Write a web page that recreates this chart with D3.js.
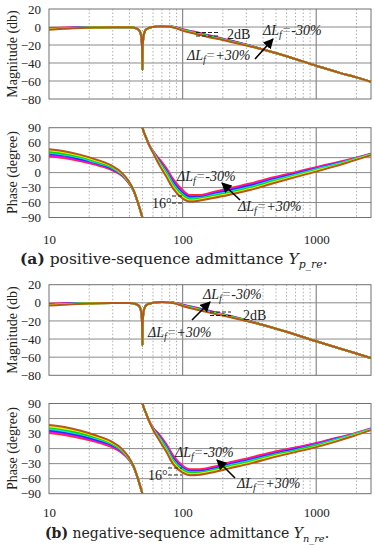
<!DOCTYPE html>
<html>
<head>
<meta charset="utf-8">
<script src="https://cdn.jsdelivr.net/npm/d3@7"></script>
<style>
  body { margin: 0; background: #fff; }
  svg { display: block; }
  svg text { font-family: "Liberation Serif", "Times New Roman", serif; fill: #222; }
  svg text.caption { font-family: "DejaVu Serif", serif; }
</style>
</head>
<body>
<div id="chart"></div>
<script>
// frequency grids (Hz)
const magFreqs = [10, 15, 20, 30, 40, 45, 47.5, 49, 49.7, 50, 50.3, 51, 52.5, 55, 60, 70, 80, 90, 100, 120, 150, 200, 300, 400, 600, 1000, 1500, 2000, 2570];
const phaseFreqs = [10, 13, 17, 22, 29, 35, 39, 43, 46.5, 48.5, 49.9, 50, 50.1, 51, 53.5, 56, 60, 67, 75, 85, 100, 113, 135, 170, 220, 320, 470, 700, 1000, 1400, 1800, 2570];

const seriesNames = ["-30%", "-20%", "-10%", "0%", "+10%", "+20%", "+30%"];
const majorTicks = [10, 100, 1000];
const minorTicks = [20, 30, 40, 50, 60, 70, 80, 90, 200, 300, 400, 500, 600, 700, 800, 900, 2000];
const magTicks = [20, 0, -20, -40, -60, -80];
const phaseTicks = [90, 60, 30, 0, -30, -60, -90];

// (a) positive-sequence, magnitude (dB)
const magA_m30 = [-1, -0.5, -0.3, -0.2, -0.3, -1.5, -4, -10, -22, -48, -22, -10, -4, -1.5, 0, 0.8, 0.8, -0.5, -2.5, -5, -8.5, -13, -19.5, -25, -32.5, -43, -51, -56, -61];
const magA_m20 = [-1.3, -0.7, -0.4, -0.2, -0.3, -1.5, -4, -10, -22, -48, -22, -10, -4, -1.5, 0, 0.8, 0.7, -0.7, -2.8, -5.3, -8.8, -13.3, -19.7, -25, -32.5, -43, -51, -56, -61];
const magA_m10 = [-1.6, -0.8, -0.5, -0.2, -0.3, -1.5, -4, -10, -22, -48, -22, -10, -4, -1.5, 0, 0.8, 0.6, -0.8, -3, -5.7, -9.2, -13.5, -19.8, -25, -32.5, -43, -51, -56, -61];
const magA_z0 = [-2, -1, -0.5, -0.2, -0.3, -1.5, -4, -10, -22, -48, -22, -10, -4, -1.5, 0, 0.8, 0.6, -1, -3.2, -6, -9.5, -13.8, -20, -25, -32.5, -43, -51, -56, -61];
const magA_p10 = [-2.3, -1.1, -0.6, -0.2, -0.3, -1.5, -4, -10, -22, -48, -22, -10, -4, -1.5, 0, 0.8, 0.5, -1.2, -3.5, -6.3, -9.8, -14, -20.2, -25, -32.5, -43, -51, -56, -61];
const magA_p20 = [-2.6, -1.3, -0.7, -0.2, -0.3, -1.5, -4, -10, -22, -48, -22, -10, -4, -1.5, 0, 0.8, 0.5, -1.3, -3.7, -6.7, -10.2, -14.3, -20.3, -25, -32.5, -43, -51, -56, -61];
const magA_p30 = [-3, -1.5, -0.8, -0.2, -0.3, -1.5, -4, -10, -22, -48, -22, -10, -4, -1.5, 0, 0.8, 0.4, -1.5, -4, -7, -10.5, -14.5, -20.5, -25, -32.5, -43, -51, -56, -61];

// (a) positive-sequence, phase (deg), null = jump at 50 Hz
const phA_m30 = [33, 29, 23, 16, 6, -6, -19, -37, -62, -78, -89, null, 90, 83, 69, 56, 43, 27, 10, -13, -35, -45, -45, -39, -32, -22, -10, 1, 11, 20, 27, 38];
const phA_m20 = [35, 31, 25, 18, 8, -5, -18, -37, -62, -78, -89, null, 90, 83, 69, 56, 43, 25, 7, -16, -38, -47, -47, -41, -34, -24, -12, -1, 10, 19, 26, 38];
const phA_m10 = [38, 34, 27, 20, 9, -4, -18, -36, -62, -78, -89, null, 90, 83, 69, 56, 42, 23, 4, -19, -41, -49, -49, -43, -36, -26, -14, -2, 8, 18, 25, 37];
const phA_z0 = [40, 36, 30, 21, 11, -3, -17, -36, -62, -78, -89, null, 90, 83, 69, 56, 42, 21, 2, -23, -44, -52, -51, -45, -39, -29, -16, -4, 7, 17, 25, 37];
const phA_p10 = [42, 38, 32, 23, 12, -2, -16, -36, -62, -78, -89, null, 90, 83, 69, 56, 41, 19, -1, -26, -46, -54, -52, -47, -41, -31, -18, -6, 5, 15, 24, 36];
const phA_p20 = [45, 41, 34, 25, 14, -1, -16, -35, -62, -78, -89, null, 90, 83, 69, 56, 41, 17, -4, -29, -49, -56, -54, -49, -43, -33, -20, -7, 4, 14, 23, 36];
const phA_p30 = [47, 43, 36, 27, 15, 0, -15, -35, -62, -78, -89, null, 90, 83, 69, 56, 40, 15, -7, -32, -52, -58, -56, -51, -45, -35, -22, -9, 2, 13, 22, 35];

// (b) negative-sequence, magnitude (dB)
const magB_m30 = [-1, -0.5, -0.3, -0.2, -0.3, -1.5, -4, -10, -22, -47, -22, -10, -4, -1.5, 0, 0.8, 0.8, -0.3, -2, -4.5, -8, -12.5, -19, -24.5, -32, -42.5, -50.5, -56, -61];
const magB_m20 = [-1.3, -0.7, -0.4, -0.2, -0.3, -1.5, -4, -10, -22, -47, -22, -10, -4, -1.5, 0, 0.8, 0.7, -0.5, -2.3, -4.8, -8.3, -12.8, -19.2, -24.5, -32, -42.5, -50.5, -56, -61];
const magB_m10 = [-1.6, -0.8, -0.5, -0.2, -0.3, -1.5, -4, -10, -22, -47, -22, -10, -4, -1.5, 0, 0.8, 0.6, -0.6, -2.5, -5.2, -8.7, -13, -19.3, -24.5, -32, -42.5, -50.5, -56, -61];
const magB_z0 = [-2, -1, -0.5, -0.2, -0.3, -1.5, -4, -10, -22, -47, -22, -10, -4, -1.5, 0, 0.8, 0.6, -0.8, -2.8, -5.5, -9, -13.2, -19.5, -24.5, -32, -42.5, -50.5, -56, -61];
const magB_p10 = [-2.3, -1.1, -0.6, -0.2, -0.3, -1.5, -4, -10, -22, -47, -22, -10, -4, -1.5, 0, 0.8, 0.5, -0.9, -3, -5.8, -9.3, -13.5, -19.7, -24.5, -32, -42.5, -50.5, -56, -61];
const magB_p20 = [-2.6, -1.3, -0.7, -0.2, -0.3, -1.5, -4, -10, -22, -47, -22, -10, -4, -1.5, 0, 0.8, 0.5, -1.1, -3.3, -6.2, -9.7, -13.8, -19.8, -24.5, -32, -42.5, -50.5, -56, -61];
const magB_p30 = [-3, -1.5, -0.8, -0.2, -0.3, -1.5, -4, -10, -22, -47, -22, -10, -4, -1.5, 0, 0.8, 0.4, -1.2, -3.5, -6.5, -10, -14, -20, -24.5, -32, -42.5, -50.5, -56, -61];

// (b) negative-sequence, phase (deg)
const phB_m30 = [31, 27, 21, 14, 4, -8, -20, -37, -62, -78, -89, null, 90, 83, 69, 56, 42, 28, 10, -14, -34, -41, -41, -36, -28, -18, -7, 2, 11, 21, 28, 40];
const phB_m20 = [34, 30, 24, 16, 6, -7, -19, -37, -62, -78, -89, null, 90, 83, 69, 56, 41, 26, 8, -17, -36, -43, -43, -38, -30, -20, -9, 1, 10, 20, 27, 40];
const phB_m10 = [36, 32, 26, 18, 8, -5, -18, -36, -62, -78, -89, null, 90, 83, 69, 56, 41, 24, 5, -20, -39, -45, -45, -40, -32, -22, -11, -1, 8, 19, 26, 39];
const phB_z0 = [39, 35, 29, 21, 10, -4, -18, -36, -62, -78, -89, null, 90, 83, 69, 56, 40, 22, 3, -23, -41, -47, -47, -42, -34, -24, -13, -3, 7, 18, 26, 39];
const phB_p10 = [42, 38, 31, 23, 11, -3, -17, -36, -62, -78, -89, null, 90, 83, 69, 56, 39, 20, 0, -25, -43, -49, -48, -43, -36, -26, -14, -4, 6, 16, 25, 38];
const phB_p20 = [44, 40, 34, 25, 13, -1, -16, -35, -62, -78, -89, null, 90, 83, 69, 56, 39, 18, -3, -28, -46, -51, -50, -45, -38, -28, -16, -6, 4, 15, 24, 38];
const phB_p30 = [47, 43, 36, 27, 15, 0, -15, -35, -62, -78, -89, null, 90, 83, 69, 56, 38, 16, -5, -31, -48, -53, -52, -47, -40, -30, -18, -7, 3, 14, 23, 37];

const colors = ["#ff2a2a", "#ff00ff", "#2a2aff", "#00e6e6", "#00dd00", "#eeee00", "#b4561e"];

const svg = d3.select("#chart").append("svg").attr("width", 375).attr("height", 550);

svg.append("defs").append("marker")
  .attr("id", "arrow").attr("viewBox", "0 0 10 10")
  .attr("refX", 9).attr("refY", 5)
  .attr("markerWidth", 6.5).attr("markerHeight", 6.5)
  .attr("orient", "auto")
  .append("path").attr("d", "M0,0L10,5L0,10z").attr("fill", "#000");

const x = d3.scaleLog().domain([10, 2570]).range([49, 371]);

function panel(id, top, bottom, domain, ticks, label, freqs, series) {
  const y = d3.scaleLinear().domain(domain).range([bottom, top]);
  const g = svg.append("g");
  const [x0, x1] = x.range();

  g.append("clipPath").attr("id", id)
    .append("rect").attr("x", x0).attr("y", top).attr("width", x1 - x0).attr("height", bottom - top);

  // grid
  g.selectAll(".minor").data(minorTicks).enter().append("line")
    .attr("x1", d => x(d)).attr("x2", d => x(d)).attr("y1", top).attr("y2", bottom)
    .attr("stroke", "#9a9a9a").attr("stroke-width", 0.8).attr("stroke-dasharray", "1.5,2");
  g.selectAll(".hgrid").data(ticks.slice(1, -1)).enter().append("line")
    .attr("x1", x0).attr("x2", x1).attr("y1", d => y(d)).attr("y2", d => y(d))
    .attr("stroke", "#8a8a8a").attr("stroke-width", 1);
  g.selectAll(".major").data(majorTicks.slice(1)).enter().append("line")
    .attr("x1", d => x(d)).attr("x2", d => x(d)).attr("y1", top).attr("y2", bottom)
    .attr("stroke", "#8a8a8a").attr("stroke-width", 1.2);

  // curves, -30% first, +30% on top
  const line = d3.line()
    .defined(d => d.v !== null)
    .x(d => x(d.f)).y(d => y(d.v))
    .curve(d3.curveMonotoneX);
  const cg = g.append("g").attr("clip-path", `url(#${id})`);
  series.forEach((vals, i) => {
    cg.append("path")
      .datum(freqs.map((f, k) => ({f: f, v: vals[k]})))
      .attr("fill", "none").attr("stroke", colors[i]).attr("stroke-width", 2)
      .attr("d", line);
  });

  g.append("rect").attr("x", x0).attr("y", top).attr("width", x1 - x0).attr("height", bottom - top)
    .attr("fill", "none").attr("stroke", "#707070").attr("stroke-width", 1);

  const ax = g.append("g").attr("transform", `translate(${x0},0)`)
    .call(d3.axisLeft(y).tickValues(ticks).tickSize(0).tickPadding(8));
  ax.select(".domain").remove();
  ax.attr("font-family", null);
  ax.selectAll("text").attr("font-size", 13);

  g.append("text")
    .attr("transform", `translate(17,${(top + bottom) / 2}) rotate(-90)`)
    .attr("text-anchor", "middle").attr("font-size", 14)
    .text(label);
  return {g, y};
}

function xLabels(yPos) {
  const ax = svg.append("g").attr("transform", `translate(0,${yPos})`)
    .call(d3.axisBottom(x).tickValues(majorTicks).tickFormat(d3.format("d")).tickSize(0).tickPadding(0));
  ax.select(".domain").remove();
  ax.attr("font-family", null);
  ax.selectAll("text").attr("font-size", 13);
}

function deltaLabel(xPos, yPos, sign) {
  const t = svg.append("text").attr("x", xPos).attr("y", yPos)
    .attr("font-size", 14).attr("font-style", "italic");
  t.append("tspan").text("\u0394L");
  t.append("tspan").attr("font-size", 10).attr("dy", 3).text("f");
  t.append("tspan").attr("dy", -3).style("fill", "#777").text("=");
  t.append("tspan").text(sign + "30%");
}

function arrow(x1, y1, x2, y2) {
  svg.append("line").attr("x1", x1).attr("y1", y1).attr("x2", x2).attr("y2", y2)
    .attr("stroke", "#000").attr("stroke-width", 1.6).attr("marker-end", "url(#arrow)");
}

function dashes(xa, xb, ys) {
  ys.forEach(yy => svg.append("line").attr("x1", xa).attr("x2", xb).attr("y1", yy).attr("y2", yy)
    .attr("stroke", "#222").attr("stroke-width", 1).attr("stroke-dasharray", "4,2"));
}

function plainText(xPos, yPos, s) {
  svg.append("text").attr("x", xPos).attr("y", yPos).attr("font-size", 14).text(s);
}

function caption(xPos, yPos, size, tag, body, sub) {
  const t = svg.append("text").attr("class", "caption").attr("x", xPos).attr("y", yPos)
    .attr("font-size", size);
  t.append("tspan").attr("font-weight", "bold").text("(" + tag + ")");
  t.append("tspan").text(" " + body + " ");
  t.append("tspan").attr("font-style", "italic").text("Y");
  t.append("tspan").attr("font-style", "italic").attr("font-size", size * 0.7).attr("dy", 4).text(sub);
  t.append("tspan").attr("dy", -4).text(".");
}

// (a)
panel("clipMagA", 9, 99, [-80, 20], magTicks, "Magnitude (db)", magFreqs,
  [magA_m30, magA_m20, magA_m10, magA_z0, magA_p10, magA_p20, magA_p30]);
panel("clipPhA", 127.7, 217.5, [-90, 90], phaseTicks, "Phase (degree)", phaseFreqs,
  [phA_m30, phA_m20, phA_m10, phA_z0, phA_p10, phA_p20, phA_p30]);
xLabels(235);

dashes(196, 218, [32.5, 36]);
plainText(227, 39, "2dB");
deltaLabel(263, 35, "-");
deltaLabel(187, 60, "+");
arrow(255, 59, 273, 39);

deltaLabel(177, 181, "-");
plainText(152, 208, "16\u00b0");
dashes(172, 184, [196, 203]);
deltaLabel(238, 211, "+");
arrow(240, 200, 222, 183);

caption(20, 264, 15.5, "a", "positive-sequence admittance", "p_re");

// (b)
panel("clipMagB", 284.7, 375.3, [-80, 20], magTicks, "Magnitude (db)", magFreqs,
  [magB_m30, magB_m20, magB_m10, magB_z0, magB_p10, magB_p20, magB_p30]);
panel("clipPhB", 403.5, 493.7, [-90, 90], phaseTicks, "Phase (degree)", phaseFreqs,
  [phB_m30, phB_m20, phB_m10, phB_z0, phB_p10, phB_p20, phB_p30]);
xLabels(508);

deltaLabel(203, 299, "-");
dashes(210, 231, [312, 315.5]);
plainText(243, 320, "2dB");
deltaLabel(148, 337, "+");
arrow(192, 320, 210, 302);

deltaLabel(175, 457, "-");
plainText(148, 480, "16\u00b0");
dashes(168, 182, [468, 475]);
deltaLabel(237, 488, "+");
arrow(235, 478, 217, 460);

caption(45, 538, 14, "b", "negative-sequence admittance", "n_re");
</script>
</body>
</html>
